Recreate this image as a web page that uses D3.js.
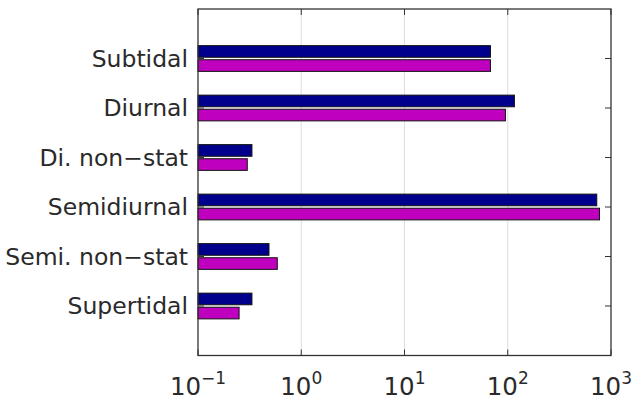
<!DOCTYPE html>
<html>
<head>
<meta charset="utf-8">
<script src="https://cdn.jsdelivr.net/npm/d3@7"></script>
<style>
  html, body { margin: 0; padding: 0; background: #fff; }
  svg { display: block; }
  text { font-family: "DejaVu Sans", sans-serif; fill: #2a2a2a; }
</style>
</head>
<body>
<svg id="chart" width="635" height="400"></svg>
<script>
// Tidal band variance for two records (log scale)
const categories = ["Subtidal", "Diurnal", "Di. non\u2212stat", "Semidiurnal", "Semi. non\u2212stat", "Supertidal"];
const seriesA = [68, 116, 0.333, 728, 0.487, 0.333];   // navy bars
const seriesB = [68, 95, 0.30, 774, 0.586, 0.25];      // magenta bars
const tickExponents = [-1, 0, 1, 2, 3];

const colors = ["#00008c", "#bf00bf"];

const margin = { left: 198, right: 24, top: 9, bottom: 44.5 };
const W = 635, H = 400;
const svg = d3.select("#chart");

const x = d3.scaleLog()
  .domain([0.1, 1000])
  .range([margin.left, W - margin.right]);

// categories sit at positions 1..6 on a 0..7 axis
const y = d3.scaleLinear()
  .domain([0, categories.length + 1])
  .range([margin.top, H - margin.bottom]);
const step = y(1) - y(0);
const barH = step * 0.235;
const gap = step * 0.025;

// grid lines at each decade
svg.append("g").selectAll("line")
  .data(tickExponents.slice(1, -1))
  .join("line")
  .attr("x1", d => x(Math.pow(10, d)))
  .attr("x2", d => x(Math.pow(10, d)))
  .attr("y1", y(0))
  .attr("y2", y(categories.length + 1))
  .attr("stroke", "#dedede")
  .attr("stroke-width", 1);

// bars
const groups = svg.append("g").selectAll("g")
  .data(categories)
  .join("g");

groups.append("rect")
  .attr("x", x(0.1))
  .attr("y", (d, i) => y(i + 1) - gap - barH)
  .attr("width", (d, i) => x(seriesA[i]) - x(0.1))
  .attr("height", barH)
  .attr("fill", colors[0])
  .attr("stroke", "#111")
  .attr("stroke-width", 1);

groups.append("rect")
  .attr("x", x(0.1))
  .attr("y", (d, i) => y(i + 1) + gap)
  .attr("width", (d, i) => x(seriesB[i]) - x(0.1))
  .attr("height", barH)
  .attr("fill", colors[1])
  .attr("stroke", "#111")
  .attr("stroke-width", 1);

// axis box
const x0 = x(0.1), x1 = x(1000), y0 = y(0), y1 = y(categories.length + 1);
svg.append("rect")
  .attr("x", x0).attr("y", y0)
  .attr("width", x1 - x0).attr("height", y1 - y0)
  .attr("fill", "none")
  .attr("stroke", "#333")
  .attr("stroke-width", 1.3);

// inward ticks: decades on top and bottom, categories on left and right
const tickLen = 6;
const ticks = svg.append("g").attr("stroke", "#333").attr("stroke-width", 1);
tickExponents.forEach(e => {
  const px = x(Math.pow(10, e));
  ticks.append("line").attr("x1", px).attr("x2", px).attr("y1", y1).attr("y2", y1 - tickLen);
  ticks.append("line").attr("x1", px).attr("x2", px).attr("y1", y0).attr("y2", y0 + tickLen);
});
categories.forEach((c, i) => {
  const py = y(i + 1);
  ticks.append("line").attr("x1", x0).attr("x2", x0 + tickLen).attr("y1", py).attr("y2", py);
  ticks.append("line").attr("x1", x1).attr("x2", x1 - tickLen).attr("y1", py).attr("y2", py);
});

// category labels
svg.append("g").selectAll("text")
  .data(categories)
  .join("text")
  .attr("x", x0 - 10)
  .attr("y", (d, i) => y(i + 1))
  .attr("dy", "0.36em")
  .attr("text-anchor", "end")
  .attr("font-size", 23.5)
  .text(d => d);

// decade tick labels 10^n
const tl = svg.append("g").selectAll("text")
  .data(tickExponents)
  .join("text")
  .attr("x", d => x(Math.pow(10, d)))
  .attr("y", 395)
  .attr("text-anchor", "middle")
  .attr("font-size", 24.5);
tl.append("tspan").text("10");
tl.append("tspan")
  .attr("dy", -11)
  .attr("font-size", 17)
  .text(d => d < 0 ? "\u2212" + Math.abs(d) : String(d));
</script>
</body>
</html>
